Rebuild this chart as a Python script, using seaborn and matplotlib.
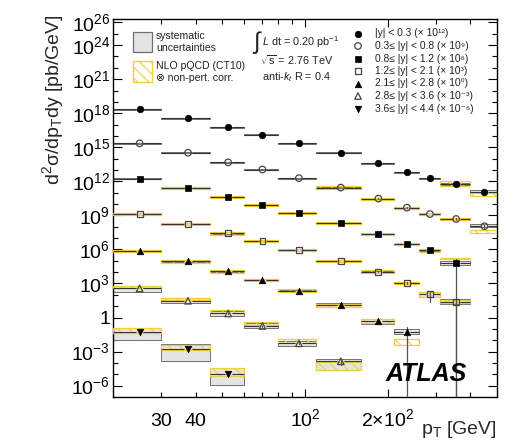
import numpy as np
import pandas as pd
import matplotlib
matplotlib.use("Agg")
import matplotlib.pyplot as plt
import seaborn as sns
from matplotlib.patches import Rectangle
from matplotlib.ticker import FixedLocator, FixedFormatter, FuncFormatter

# ---------------- data ----------------
pt_edges = [20, 30, 45, 60, 80, 110, 160, 210, 260, 310, 400, 500]

rap_labels = [
    "|y| < 0.3 (× 10¹²)",
    "0.3≤ |y| < 0.8 (× 10⁹)",
    "0.8≤ |y| < 1.2 (× 10⁶)",
    "1.2≤ |y| < 2.1 (× 10³)",
    "2.1≤ |y| < 2.8 (× 10⁰)",
    "2.8≤ |y| < 3.6 (× 10⁻³)",
    "3.6≤ |y| < 4.4 (× 10⁻⁶)",
]

# cross sections [pb/GeV], already multiplied by the legend factors
xs_y1 = [2.3e18, 3.5e17, 5.8e16, 1.3e16, 2.2e15, 3.3e14, 4.1e13, 6.6e12, 1.8e12, 6.2e11, 1.1e11]
xs_y2 = [2.2e15, 3.3e14, 4.7e13, 1.1e13, 1.9e12, 2.8e11, 3.0e10, 4.8e9, 1.3e9, 4.8e8, 1.1e8]
xs_y3 = [1.7e12, 2.4e11, 3.9e10, 8.1e9, 1.6e9, 2.1e8, 2.3e7, 3.0e6, 8.3e5, 6.3e4]
xs_y4 = [1.3e9, 1.7e8, 2.6e7, 5.5e6, 8.9e5, 9.5e4, 1.1e4, 1.1e3, 110, 25]
xs_y5 = [7.2e5, 8.9e4, 1.2e4, 2.0e3, 230, 12.6, 0.47, 0.056]
xs_y6 = [370, 30, 2.3, 0.18, 5.4e-3, 1.4e-4]
xs_y7 = [0.056, 1.6e-3, 1.0e-5]

# statistical uncertainty (relative)
stat_y1 = [0.01, 0.01, 0.01, 0.01, 0.01, 0.02, 0.03, 0.05, 0.08, 0.12, 0.25]
stat_y2 = [0.01, 0.01, 0.01, 0.01, 0.01, 0.02, 0.03, 0.05, 0.08, 0.15, 0.3]
stat_y3 = [0.01, 0.01, 0.01, 0.02, 0.02, 0.03, 0.06, 0.1, 0.2, 1.2]
stat_y4 = [0.01, 0.01, 0.01, 0.02, 0.02, 0.04, 0.08, 0.2, 0.78, 1.1]
stat_y5 = [0.01, 0.02, 0.02, 0.03, 0.06, 0.15, 0.4, 1.75]
stat_y6 = [0.02, 0.03, 0.05, 0.1, 0.2, 0.5]
stat_y7 = [0.05, 0.1, 0.3]

# systematic uncertainty (relative, up / down)
sysup_y1 = [0.1, 0.1, 0.1, 0.1, 0.1, 0.1, 0.1, 0.1, 0.1, 0.2, 0.5]
sysdn_y1 = [0.1, 0.1, 0.1, 0.1, 0.1, 0.1, 0.1, 0.1, 0.1, 0.2, 0.2]
sysup_y2 = [0.1, 0.1, 0.1, 0.1, 0.1, 0.15, 0.15, 0.15, 0.15, 0.15, 0.6]
sysdn_y2 = [0.1, 0.1, 0.1, 0.1, 0.1, 0.13, 0.13, 0.13, 0.13, 0.13, 0.19]
sysup_y3 = [0.12, 0.12, 0.12, 0.12, 0.12, 0.12, 0.12, 0.12, 0.2, 0.6]
sysdn_y3 = [0.12, 0.12, 0.12, 0.12, 0.12, 0.12, 0.12, 0.12, 0.18, 0.3]
sysup_y4 = [0.2, 0.2, 0.2, 0.2, 0.2, 0.2, 0.2, 0.25, 0.7, 0.6]
sysdn_y4 = [0.2, 0.2, 0.2, 0.2, 0.2, 0.2, 0.2, 0.2, 0.38, 0.37]
sysup_y5 = [0.25, 0.25, 0.25, 0.25, 0.25, 0.41, 0.7, 0.73]
sysdn_y5 = [0.2, 0.2, 0.2, 0.2, 0.2, 0.29, 0.38, 0.37]
sysup_y6 = [0.58, 0.62, 0.58, 0.95, 0.7, 0.7]
sysdn_y6 = [0.5, 0.41, 0.38, 0.37, 0.38, 0.83]
sysup_y7 = [1.0, 1.75, 2.8]
sysdn_y7 = [0.81, 0.91, 0.89]

# NLO pQCD (CT10) x non-pert. corr. (None = not shown) and its relative uncertainty
nlo_y1 = [None, None, None, None, None, None, None, None, None, 6.2e11, 6.6e10]
nlou_y1 = [0, 0, 0, 0, 0, 0, 0, 0, 0, 0.58, 0.32]
nlo_y2 = [None, None, None, None, None, 2.8e11, 3.0e10, 4.8e9, 1.3e9, 4.8e8, 4.0e7]
nlou_y2 = [0, 0, 0, 0, 0, 0.25, 0.25, 0.25, 0.25, 0.25, 0.3]
nlo_y3 = [None, 2.4e11, 3.9e10, 8.1e9, 1.6e9, 2.1e8, 2.3e7, 3.0e6, 8.3e5, 1.6e5]
nlou_y3 = [0, 0.25, 0.25, 0.25, 0.25, 0.25, 0.25, 0.25, 0.3, 0.2]
nlo_y4 = [1.3e9, 1.7e8, 2.6e7, 5.5e6, 8.9e5, 9.5e4, 1.1e4, 1.1e3, 110, 25]
nlou_y4 = [0.3, 0.3, 0.3, 0.3, 0.3, 0.3, 0.3, 0.35, 0.6, 0.4]
nlo_y5 = [7.2e5, 8.9e4, 1.2e4, 2.0e3, 230, 12.6, 0.47, 6.9e-3]
nlou_y5 = [0.3, 0.3, 0.3, 0.3, 0.3, 0.35, 0.5, 0.74]
nlo_y6 = [490, 43, 3.4, 0.3, 8.5e-3, 5.5e-5]
nlou_y6 = [0.26, 0.26, 0.26, 0.3, 0.6, 1.29]
nlo_y7 = [0.069, 2.3e-3, 1.7e-5]
nlou_y7 = [0.58, 0.66, 1.24]

y_tick_vals = [1e-6, 1e-3, 1, 1e3, 1e6, 1e9, 1e12, 1e15, 1e18, 1e21, 1e24, 1e26]
y_tick_text = ["$10^{-6}$", "$10^{-3}$", "1", "$10^{3}$", "$10^{6}$", "$10^{9}$",
               "$10^{12}$", "$10^{15}$", "$10^{18}$", "$10^{21}$", "$10^{24}$", "$10^{26}$"]
x_major_vals = [100, 200]
x_major_text = ["$10^{2}$", r"$2{\times}10^{2}$"]
x_minor_vals = [30, 40, 50, 60, 70, 80, 90, 300, 400]
x_minor_text = {30: "30", 40: "40"}

# ---------------- style ----------------
sns.set_theme(style="ticks")
plt.rcParams["font.family"] = ["Liberation Sans", "DejaVu Sans"]
plt.rcParams["mathtext.fontset"] = "custom"
plt.rcParams["mathtext.rm"] = "Liberation Sans"
plt.rcParams["mathtext.it"] = "Liberation Sans:italic"
plt.rcParams["mathtext.bf"] = "Liberation Sans:bold"
plt.rcParams["mathtext.sf"] = "Liberation Sans"
plt.rcParams["hatch.color"] = "#f0cf3c"
plt.rcParams["hatch.linewidth"] = 0.8

GRAY_FC = "#e4e4e4"
GRAY_EC = "#707070"
YEL = "#f0cf3c"
LINE = "#333333"
HATCH = "\\\\\\"
GAP = 1.03

W, H = 514, 445
fig = plt.figure(figsize=(W / 100, H / 100), dpi=100)
ax = fig.add_axes([113 / W, 1 - 397 / H, 384 / W, 378 / H])
YMIN, YMAX = 1e-7, 10 ** 26.3

series = [
    (xs_y1, stat_y1, sysup_y1, sysdn_y1, nlo_y1, nlou_y1, "o", True),
    (xs_y2, stat_y2, sysup_y2, sysdn_y2, nlo_y2, nlou_y2, "o", False),
    (xs_y3, stat_y3, sysup_y3, sysdn_y3, nlo_y3, nlou_y3, "s", True),
    (xs_y4, stat_y4, sysup_y4, sysdn_y4, nlo_y4, nlou_y4, "s", False),
    (xs_y5, stat_y5, sysup_y5, sysdn_y5, nlo_y5, nlou_y5, "^", True),
    (xs_y6, stat_y6, sysup_y6, sysdn_y6, nlo_y6, nlou_y6, "^", False),
    (xs_y7, stat_y7, sysup_y7, sysdn_y7, nlo_y7, nlou_y7, "v", True),
]
msize = {"o": 22, "s": 18, "^": 22, "v": 22}

for vals, stat, sup, sdn, nlo, nlou, mk, filled in series:
    n = len(vals)
    lo = pt_edges[:n]
    hi = pt_edges[1:n + 1]
    mid = [(a + b) / 2 for a, b in zip(lo, hi)]
    for i in range(n):
        v = vals[i]
        y0 = v * (1 - sdn[i])
        y1 = v * (1 + sup[i])
        ax.add_patch(Rectangle((lo[i], y0), hi[i] - lo[i], y1 - y0, fc=GRAY_FC,
                               ec=GRAY_EC, lw=0.7, zorder=2))
        if nlo[i] is not None:
            t, u = nlo[i], nlou[i]
            ax.add_patch(Rectangle((lo[i], t / (1 + u)), hi[i] - lo[i], t * (1 + u) - t / (1 + u),
                                   fc="none", ec=YEL, hatch=HATCH, lw=0.9, zorder=3))
        ax.plot([lo[i], mid[i] / GAP], [v, v], color=LINE, lw=0.8, zorder=4,
                solid_capstyle="butt")
        ax.plot([mid[i] * GAP, hi[i]], [v, v], color=LINE, lw=0.8, zorder=4,
                solid_capstyle="butt")
        e = stat[i] * v
        ylo = v - e if v - e > 0 else YMIN * 0.1
        ax.plot([mid[i], mid[i]], [ylo, v + e], color="#555555", lw=0.9, zorder=4)
    df = pd.DataFrame({"pt": mid, "xs": vals})
    if filled:
        sns.scatterplot(data=df, x="pt", y="xs", marker=mk, s=msize[mk], color="black",
                        edgecolor="black", linewidth=0.5, ax=ax, zorder=5, legend=False)
    else:
        sns.scatterplot(data=df, x="pt", y="xs", marker=mk, s=msize[mk], color="#444444",
                        facecolor="none", edgecolor="#444444", linewidth=0.9, ax=ax,
                        zorder=5, legend=False)

ax.set_xscale("log")
ax.set_yscale("log")
ax.set_xlim(20, 500)
ax.set_ylim(YMIN, YMAX)
ax.set_xlabel("")
ax.set_ylabel("")

# ticks
ax.yaxis.set_major_locator(FixedLocator(y_tick_vals))
ax.yaxis.set_major_formatter(FixedFormatter(y_tick_text))
ax.yaxis.set_minor_locator(FixedLocator([10.0 ** k for k in range(-7, 27)]))
ax.yaxis.set_minor_formatter(FuncFormatter(lambda v, p: ""))
ax.xaxis.set_major_locator(FixedLocator(x_major_vals))
ax.xaxis.set_major_formatter(FixedFormatter(x_major_text))
ax.xaxis.set_minor_locator(FixedLocator(x_minor_vals))
ax.xaxis.set_minor_formatter(FuncFormatter(lambda v, p: x_minor_text.get(int(round(v)), "")))
ax.tick_params(which="both", direction="in", top=True, right=True, width=0.8,
               colors="black", labelsize=14)
ax.tick_params(axis="y", which="major", length=6.5, pad=2)
ax.tick_params(axis="y", which="minor", length=3.6)
ax.tick_params(axis="x", which="major", length=6, pad=21)
ax.tick_params(axis="x", which="minor", length=3.6, pad=21)
for lab in ax.xaxis.get_majorticklabels() + ax.xaxis.get_minorticklabels():
    lab.set_va("baseline")
for sp in ax.spines.values():
    sp.set_color("black")
    sp.set_linewidth(1.0)

# axis titles
fig.text(53 / W, 1 - 14 / H, "d$^{2}$σ/dp$_{\\mathrm{T}}$dy [pb/GeV]", rotation=90,
         ha="center", va="top", fontsize=14)
fig.text(497 / W, 1 - 434 / H, "p$_{\\mathrm{T}}$ [GeV]", ha="right", va="baseline",
         fontsize=14)

# ---------------- legends / annotations ----------------
def ax_xy(px, py):
    return (px - 113) / 384, 1 - (py - 19) / 378

# systematic box legend
x0, yt = ax_xy(133, 32)
x1, yb = ax_xy(152, 52)
ax.add_patch(Rectangle((x0, yb), x1 - x0, yt - yb, transform=ax.transAxes, fc=GRAY_FC,
                       ec=GRAY_EC, lw=0.9, zorder=6, clip_on=False))
x0, yt = ax_xy(133, 61)
x1, yb = ax_xy(152, 82)
ax.add_patch(Rectangle((x0, yb), x1 - x0, yt - yb, transform=ax.transAxes, fc="none",
                       ec=YEL, hatch=HATCH, lw=1.0, zorder=6, clip_on=False))
for txt, py in [("systematic", 36), ("uncertainties", 48), ("NLO pQCD (CT10)", 66),
                ("⊗ non-pert. corr.", 78)]:
    tx, ty = ax_xy(156, py)
    ax.text(tx, ty, txt, transform=ax.transAxes, ha="left", va="center", fontsize=7.6,
            color="#222222")

tx, ty = ax_xy(256, 43)
ax.text(tx, ty, "∫", transform=ax.transAxes, ha="center", va="center", fontsize=17,
        color="#222222")
tx, ty = ax_xy(262, 42)
ax.text(tx, ty, "$L$ dt = 0.20 pb$^{-1}$", transform=ax.transAxes, ha="left", va="center",
        fontsize=7.8, color="#222222")
tx, ty = ax_xy(260, 60)
ax.text(tx, ty, "$\\sqrt{\\mathrm{s}}$ = 2.76 TeV", transform=ax.transAxes, ha="left",
        va="center", fontsize=7.8, color="#222222")
tx, ty = ax_xy(262, 77)
ax.text(tx, ty, "anti-$k_{t}$ R = 0.4", transform=ax.transAxes, ha="left", va="center",
        fontsize=7.8, color="#222222")

for k, (s, lab) in enumerate(zip(series, rap_labels)):
    py = 33.5 + 12.5 * k
    mx, my = ax_xy(358, py)
    tx, _ = ax_xy(375, py)
    mk, filled = s[6], s[7]
    if filled:
        ax.scatter([mx], [my], marker=mk, s=msize[mk], color="black", transform=ax.transAxes,
                   zorder=7, clip_on=False, linewidths=0.5)
    else:
        ax.scatter([mx], [my], marker=mk, s=msize[mk], facecolor="none", edgecolor="#444444",
                   linewidths=0.9, transform=ax.transAxes, zorder=7, clip_on=False)
    ax.text(tx, my, lab, transform=ax.transAxes, ha="left", va="center", fontsize=7.4,
            color="#222222")

tx, ty = ax_xy(386, 381)
ax.text(tx, ty, "ATLAS", transform=ax.transAxes, ha="left", va="baseline", fontsize=18,
        fontweight="bold", fontstyle="italic", color="black", zorder=8)

fig.savefig("out.png", dpi=100)
